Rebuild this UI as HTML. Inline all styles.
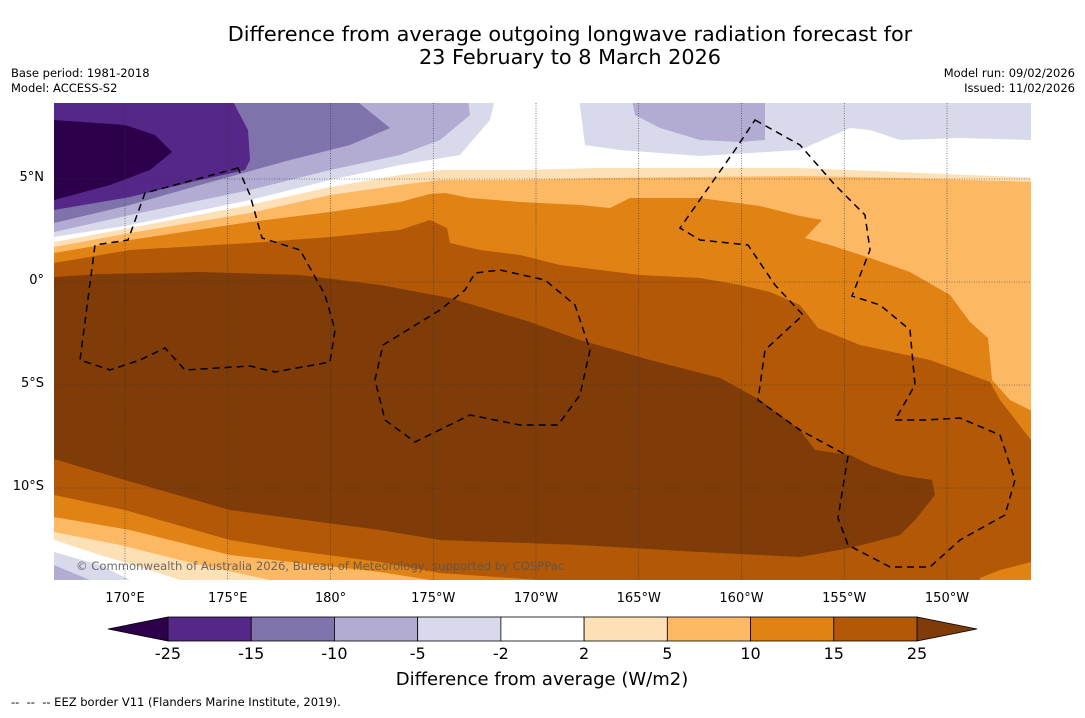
<!DOCTYPE html>
<html><head><meta charset="utf-8"><style>
body{margin:0;background:#fff;font-family:"Liberation Sans","DejaVu Sans",sans-serif;}
svg text{font-family:"DejaVu Sans","Liberation Sans",sans-serif;}
</style></head><body>
<svg id="chart" width="1085" height="713" viewBox="0 0 1085 713" xmlns="http://www.w3.org/2000/svg">
<rect width="1085" height="713" fill="#fff"/>
<text x="570" y="41" font-size="20.8" text-anchor="middle">Difference from average outgoing longwave radiation forecast for</text>
<text x="570" y="64" font-size="20.8" text-anchor="middle">23 February to 8 March 2026</text>
<text x="11" y="77" font-size="11.5">Base period: 1981-2018</text>
<text x="11" y="92" font-size="11.5">Model: ACCESS-S2</text>
<text x="1075" y="77" font-size="11.5" text-anchor="end">Model run: 09/02/2026</text>
<text x="1075" y="92" font-size="11.5" text-anchor="end">Issued: 11/02/2026</text>
<defs><clipPath id="mapclip"><rect x="54" y="103" width="977" height="477"/></clipPath></defs>
<g clip-path="url(#mapclip)">
<rect x="54" y="103" width="977" height="477" fill="#ffffff"/>
<polygon fill="#d8daeb" points="40,90 497,90 490,120 460,155 400,165 330,180 250,200 130,225 54,237 40,240"/>
<polygon fill="#d8daeb" points="578,90 1040,90 1040,140 1031,140 960,138 900,140 870,130 850,128 800,150 700,156 620,150 585,145"/>
<polygon fill="#b2abd2" points="630,90 765,90 765,140 740,142 700,140 660,128 635,115"/>
<polygon fill="#b2abd2" points="40,90 467,90 470,115 440,140 400,155 330,170 250,190 130,215 54,232 40,234"/>
<polygon fill="#8073ac" points="40,90 343,90 390,128 350,145 290,160 200,185 130,205 54,223 40,225"/>
<polygon fill="#542788" points="40,90 227,90 240,115 248,130 250,160 245,170 200,180 130,197 54,210 40,212"/>
<polygon fill="#2d004b" points="40,118 54,120 125,125 155,135 172,152 150,170 110,185 54,200 40,202"/>
<polygon fill="#d8daeb" points="40,550 54,552 100,565 130,580 130,590 40,590"/>
<polygon fill="#b2abd2" points="40,563 54,565 90,580 90,590 40,590"/>
<polygon fill="#fee0b6" points="40,244 54,242 130,228 250,205 330,187 400,175 440,170 520,170 600,168 700,168 800,168 900,172 1040,178 1040,590 185,590 180,580 150,570 100,555 54,540 40,538"/>
<polygon fill="#fdb863" points="40,249 54,247 130,233 250,213 330,195 400,185 440,180 520,180 600,178 700,177 800,176 900,178 1040,182 1040,590 275,590 270,580 200,565 120,545 54,532 40,530"/>
<polygon fill="#e08214" points="40,255 54,253 130,240 250,222 330,212 400,202 430,194 445,193 470,198 520,202 580,205 610,208 630,198 700,198 760,206 800,216 822,220 805,238 830,245 870,258 910,272 950,295 970,322 988,338 992,380 1010,400 1040,415 1040,590 435,590 430,580 380,572 300,563 230,555 130,530 54,517 40,515"/>
<polygon fill="#b35806" points="40,265 54,263 130,250 250,243 330,237 400,230 430,220 447,228 450,243 480,250 520,255 560,265 640,275 700,278 740,285 770,292 800,305 818,328 860,345 930,360 990,382 1000,400 1031,440 1040,445 1040,560 1031,562 1000,570 980,578 975,590 545,590 540,580 440,573 380,562 290,550 230,540 125,510 54,495 40,493"/>
<polygon fill="#7f3b08" points="40,279 54,277 100,274 200,272 300,275 380,285 450,298 530,322 580,340 650,360 720,378 760,400 800,430 815,450 850,455 870,465 900,475 932,480 935,495 915,520 900,535 850,548 800,557 700,552 580,545 440,540 380,530 230,510 125,480 54,459 40,457"/>
<g stroke="#333" stroke-width="0.6" stroke-dasharray="1,1.5" fill="none" id="grid"></g>
<g stroke="#000" stroke-width="1.5" stroke-dasharray="7,5" fill="none">
<path d="M238,168 L145,193 L128,240 L95,245 L80,360 L110,370 L140,360 L165,348 L185,370 L250,366 L275,372 L330,362 L335,330 L325,295 L300,250 L262,238 L250,195 Z"/>
<path d="M383,345 L440,310 L465,290 L475,273 L500,270 L545,280 L575,305 L590,350 L580,395 L558,425 L520,425 L470,415 L415,442 L385,420 L375,380 Z"/>
<path d="M755,120 L800,145 L835,185 L865,215 L870,250 L852,296 L880,305 L910,330 L915,385 L895,420 L925,420 L960,418 L1000,435 L1015,480 L1005,515 L960,540 L930,567 L890,567 L848,545 L838,518 L848,456 L800,430 L758,400 L765,350 L803,315 L775,285 L748,245 L700,240 L680,228 L735,150 Z"/>
</g>
<text x="76" y="570" font-size="11.6" fill="#555" opacity="0.85">© Commonwealth of Australia 2026, Bureau of Meteorology, supported by COSPPac</text>
</g>
<g id="axislabels" font-size="13"></g>
<g id="colorbar"></g>
<text x="542" y="685" font-size="18" text-anchor="middle">Difference from average (W/m2)</text>
<text x="11" y="706" font-size="11.5" xml:space="preserve">--  --  -- EEZ border V11 (Flanders Marine Institute, 2019).</text>
</svg>
<script>
const lonLabels=["170°E","175°E","180°","175°W","170°W","165°W","160°W","155°W","150°W"];
const lonVals=[170,175,180,185,190,195,200,205,210];
const latLabels=["5°N","0°","5°S","10°S"];
const latVals=[5,0,-5,-10];
const cbLevels=["-25","-15","-10","-5","-2","2","5","10","15","25"];
const cbColors=["#542788","#8073ac","#b2abd2","#d8daeb","#ffffff","#fee0b6","#fdb863","#e08214","#b35806"];
const cbLow="#2d004b", cbHigh="#7f3b08";
const NS="http://www.w3.org/2000/svg";
const xLon=l=>125+(l-170)*20.55;
const yLat=l=>282-l*20.6;
const grid=document.getElementById('grid');
const ax=document.getElementById('axislabels');
function mk(t,a,p){const e=document.createElementNS(NS,t);for(const k in a)e.setAttribute(k,a[k]);p.appendChild(e);return e;}
lonVals.forEach((v,i)=>{
 const l=mk('line',{x1:xLon(v),x2:xLon(v),y1:103,y2:580},grid);
 
 
 const t=mk('text',{x:xLon(v),y:602,'text-anchor':'middle'},ax);t.textContent=lonLabels[i];
 
 
});
latVals.forEach((v,i)=>{
 const l=mk('line',{x1:54,x2:1031,y1:yLat(v),y2:yLat(v)},grid);
 
 
 const t=mk('text',{x:44,y:yLat(v)+2,'text-anchor':'end'},ax);t.textContent=latLabels[i];
 
 
});
const cb=document.getElementById('colorbar');
const x0=168,x1=917,y0=617,h=24,w=(x1-x0)/cbColors.length;
const lt=mk('polygon',{points:`108,${y0+h/2} ${x0},${y0} ${x0},${y0+h}`,fill:cbLow,stroke:'#000','stroke-width':0.8},cb);


const rt=mk('polygon',{points:`977,${y0+h/2} ${x1},${y0} ${x1},${y0+h}`,fill:cbHigh,stroke:'#000','stroke-width':0.8},cb);


cbColors.forEach((c,i)=>{
 const r=mk('rect',{x:x0+i*w,y:y0,width:w,height:h,fill:c,stroke:'#000','stroke-width':0.8},cb);
 
 
});
cbLevels.forEach((s,i)=>{
 const t=mk('text',{x:x0+i*w,y:659,'font-size':16,'text-anchor':'middle'},cb);t.textContent=s;
 
 
});
</script>
</body></html>
